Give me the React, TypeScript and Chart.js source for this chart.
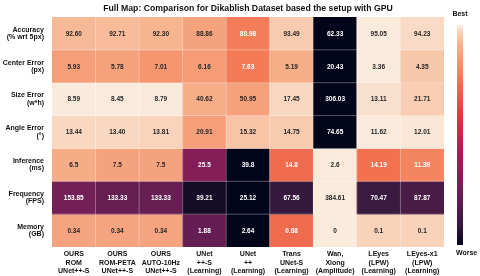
import { useEffect, useRef } from 'react';
import { Chart, registerables } from 'chart.js';
Chart.register(...registerables);

const TITLE = 'Full Map: Comparison for Dikablish Dataset based the setup with GPU';
const FONT = '"Liberation Sans", Arial, sans-serif';

const methods: string[][] = [
  ['OURS', 'ROM', 'UNet++-S'],
  ['OURS', 'ROM-PETA', 'UNet++-S'],
  ['OURS', 'AUTO-10Hz', 'UNet++-S'],
  ['UNet', '++-S', '(Learning)'],
  ['UNet', '++', '(Learning)'],
  ['Trans', 'UNet-S', '(Learning)'],
  ['Wan,', 'Xiong', '(Amplitude)'],
  ['LEyes', '(LPW)', '(Learning)'],
  ['LEyes-x1', '(LPW)', '(Learning)'],
];

const metrics: string[][] = [
  ['Accuracy', '(% wrt 5px)'],
  ['Center Error', '(px)'],
  ['Size Error', '(w*h)'],
  ['Angle Error', '(°)'],
  ['Inference', '(ms)'],
  ['Frequency', '(FPS)'],
  ['Memory', '(GB)'],
];

// displayed values per metric row
const accuracy = [92.6, 92.71, 92.3, 88.86, 88.98, 93.49, 62.33, 95.05, 94.23];
const centerError = [5.93, 5.78, 7.01, 6.16, 7.63, 5.19, 20.43, 3.36, 4.35];
const sizeError = [8.59, 8.45, 8.79, 40.62, 50.95, 17.45, 306.03, 13.11, 21.71];
const angleError = [13.44, 13.4, 13.81, 20.91, 15.32, 14.75, 74.65, 11.62, 12.01];
const inference = [6.5, 7.5, 7.5, 25.5, 39.8, 14.8, 2.6, 14.19, 11.38];
const frequency = [153.85, 133.33, 133.33, 39.21, 25.12, 67.56, 384.61, 70.47, 87.87];
const memory = [0.34, 0.34, 0.34, 1.88, 2.64, 0.88, 0, 0.1, 0.1];
const rowValues = [accuracy, centerError, sizeError, angleError, inference, frequency, memory];
const rowDecimals: (number | null)[] = [2, 2, 2, 2, null, 2, null];

// colour score per cell (1 = best, 0 = worse)
const accuracyScore = [0.925, 0.928, 0.916, 0.87, 0.77, 0.952, 0, 1, 0.975];
const centerScore = [0.86, 0.866, 0.836, 0.85, 0.765, 0.9, 0, 1, 0.945];
const sizeScore = [0.999, 1, 0.999, 0.9, 0.865, 0.97, 0, 0.984, 0.955];
const angleScore = [0.971, 0.972, 0.965, 0.86, 0.941, 0.95, 0, 1, 0.994];
const inferenceScore = [0.895, 0.872, 0.872, 0.3, 0, 0.72, 1, 0.74, 0.79];
const frequencyScore = [0.26, 0.225, 0.225, 0.03, 0, 0.09, 1, 0.1, 0.14];
const memoryScore = [0.875, 0.875, 0.875, 0.22, 0, 0.72, 1, 0.962, 0.962];
const rowScores = [accuracyScore, centerScore, sizeScore, angleScore, inferenceScore, frequencyScore, memoryScore];

const ROCKET: [number, number[]][] = [
  [0, [3, 5, 26]],
  [0.083, [53, 25, 62]],
  [0.25, [112, 31, 87]],
  [0.417, [173, 23, 89]],
  [0.583, [225, 51, 66]],
  [0.75, [243, 118, 81]],
  [0.917, [246, 180, 143]],
  [1, [250, 235, 221]],
];

function rocketRGB(t: number): number[] {
  const v = Math.max(0, Math.min(1, t));
  for (let i = 1; i < ROCKET.length; i++) {
    const [p1, c1] = ROCKET[i];
    const [p0, c0] = ROCKET[i - 1];
    if (v <= p1) {
      const f = (v - p0) / (p1 - p0);
      return c0.map((c, k) => Math.round(c + (c1[k] - c) * f));
    }
  }
  return ROCKET[ROCKET.length - 1][1];
}
const rgbStr = (c: number[]) => `rgb(${c[0]},${c[1]},${c[2]})`;
function luminance(c: number[]) {
  const f = (x: number) => {
    const s = x / 255;
    return s <= 0.03928 ? s / 12.92 : Math.pow((s + 0.055) / 1.055, 2.4);
  };
  return 0.2126 * f(c[0]) + 0.7152 * f(c[1]) + 0.0722 * f(c[2]);
}

function fmt(v: number, d: number | null) {
  return d === null ? String(v) : v.toFixed(d);
}

const cellTextPlugin = {
  id: 'cellText',
  afterDatasetsDraw(chart: any) {
    const ctx = chart.ctx;
    ctx.save();
    // faint white separators between cells
    const area = chart.chartArea;
    ctx.strokeStyle = 'rgba(255,255,255,0.55)';
    ctx.lineWidth = 0.6;
    const meta0 = chart.getDatasetMeta(0);
    meta0.data.forEach((el: any, c: number) => {
      if (c === 0) return;
      const x = el.x - el.width / 2;
      ctx.beginPath();
      ctx.moveTo(x, area.top);
      ctx.lineTo(x, area.bottom);
      ctx.stroke();
    });
    chart.data.datasets.forEach((_ds: any, r: number) => {
      if (r === 0) return;
      const el = chart.getDatasetMeta(r).data[0];
      const y = Math.min(el.y, el.base);
      ctx.beginPath();
      ctx.moveTo(area.left, y);
      ctx.lineTo(area.right, y);
      ctx.stroke();
    });

    ctx.font = `bold 6.5px ${FONT}`;
    ctx.textAlign = 'center';
    ctx.textBaseline = 'middle';
    chart.data.datasets.forEach((_ds: any, r: number) => {
      const meta = chart.getDatasetMeta(r);
      meta.data.forEach((el: any, c: number) => {
        const col = rocketRGB(rowScores[r][c]);
        ctx.fillStyle = luminance(col) > 0.408 ? '#262626' : '#ffffff';
        const y = (el.y + el.base) / 2;
        ctx.fillText(fmt(rowValues[r][c], rowDecimals[r]), el.x, y + 0.5);
      });
    });
    ctx.restore();
  },
};

const decorPlugin = {
  id: 'decor',
  afterDraw(chart: any) {
    const ctx = chart.ctx;
    const area = chart.chartArea;
    ctx.save();
    // title
    ctx.fillStyle = '#111';
    ctx.font = `bold 8.7px ${FONT}`;
    ctx.textAlign = 'center';
    ctx.textBaseline = 'middle';
    ctx.fillText(TITLE, (area.left + area.right) / 2, 8.5);
    // colorbar
    const cbX = 457, cbW = 6, cbTop = 25, cbBot = 245;
    const g = ctx.createLinearGradient(0, cbTop, 0, cbBot);
    ROCKET.forEach(([p, c]) => g.addColorStop(1 - p, rgbStr(c)));
    ctx.fillStyle = g;
    ctx.fillRect(cbX, cbTop, cbW, cbBot - cbTop);
    ctx.fillStyle = '#111';
    ctx.font = `bold 7px ${FONT}`;
    ctx.textAlign = 'center';
    ctx.fillText('Best', cbX + cbW / 2, 14);
    ctx.textAlign = 'left';
    ctx.fillText('Worse', cbX - 1, 253);
    ctx.restore();
  },
};

export default function App() {
  const ref = useRef<HTMLCanvasElement | null>(null);
  useEffect(() => {
    document.body.style.margin = '0';
    const canvas = ref.current!;
    const datasets = metrics.map((m, r) => ({
      label: m.join(' '),
      data: methods.map(() => [r, r + 1]),
      backgroundColor: rowScores[r].map((s) => rgbStr(rocketRGB(s))),
      borderWidth: 0,
      grouped: false,
      categoryPercentage: 1,
      barPercentage: 1,
    }));
    const chart = new Chart(canvas, {
      type: 'bar',
      data: { labels: methods, datasets: datasets as any },
      options: {
        animation: false,
        responsive: false,
        devicePixelRatio: 1,
        layout: { padding: { top: 17, right: 36, left: 0, bottom: 0 } },
        plugins: { legend: { display: false }, title: { display: false }, tooltip: { enabled: false } },
        scales: {
          x: {
            type: 'category',
            offset: true,
            grid: { display: false, drawTicks: false },
            border: { display: false },
            ticks: {
              color: '#111',
              padding: 3,
              maxRotation: 0,
              autoSkip: false,
              font: { family: FONT, size: 7, weight: 'bold', lineHeight: 1.2 },
            },
            afterFit(scale: any) {
              scale.height = 29;
            },
          },
          y: {
            type: 'linear',
            min: 0,
            max: 7,
            reverse: true,
            grid: { display: false, drawTicks: false },
            border: { display: false },
            afterBuildTicks(scale: any) {
              scale.ticks = metrics.map((_, i) => ({ value: i + 0.5 }));
            },
            ticks: {
              color: '#111',
              padding: 8,
              autoSkip: false,
              font: { family: FONT, size: 7, weight: 'bold', lineHeight: 1.05 },
              callback: (_v: any, i: number) => metrics[i],
            },
            afterFit(scale: any) {
              scale.width = 52;
            },
          },
        },
      } as any,
      plugins: [cellTextPlugin, decorPlugin],
    });
    return () => chart.destroy();
  }, []);
  return <canvas ref={ref} width={480} height={276} style={{ display: 'block' }} />;
}
